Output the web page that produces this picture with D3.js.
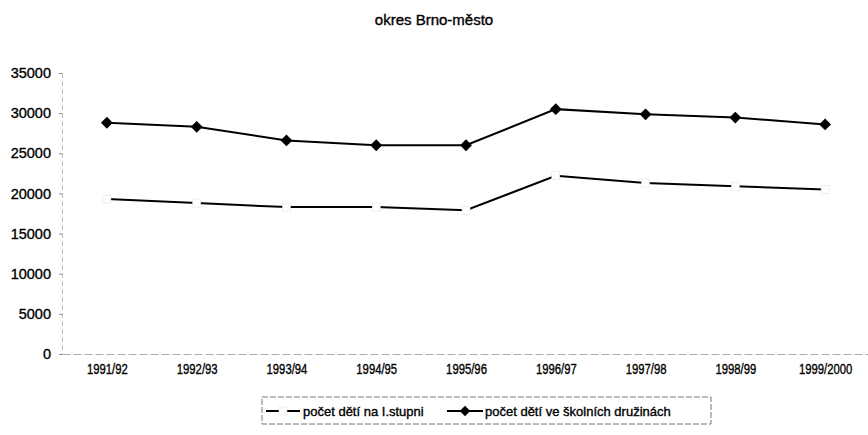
<!DOCTYPE html>
<html>
<head>
<meta charset="utf-8">
<script src="https://cdn.jsdelivr.net/npm/d3@7/dist/d3.min.js"></script>
<style>
  body { margin: 0; background: #fff; }
  svg { display: block; font-family: "Liberation Sans", Arial, sans-serif; }
  text { stroke: #000; stroke-width: 0.35px; }
</style>
</head>
<body>
<svg id="chart"></svg>
<script>
// data
const years = ['1991/92', '1992/93', '1993/94', '1994/95', '1995/96', '1996/97', '1997/98', '1998/99', '1999/2000'];
const detiStupen = [19300, 18800, 18300, 18300, 17900, 22200, 21300, 20900, 20500];
const detiDruziny = [28800, 28300, 26600, 26000, 26000, 30500, 29850, 29450, 28600];
const yTicks = [0, 5000, 10000, 15000, 20000, 25000, 30000, 35000];
const seriesNames = ['počet dětí na I.stupni', 'počet dětí ve školních družinách'];

const width = 868;
const height = 435;
const margin = { top: 73, right: -2, bottom: 81, left: 62 };

const svg = d3.select('#chart')
  .attr('width', width)
  .attr('height', height);

const x = d3.scalePoint()
  .domain(years)
  .range([margin.left, width - margin.right])
  .padding(0.5);

const y = d3.scaleLinear()
  .domain([0, 35000])
  .range([height - margin.bottom, margin.top]);

// nadpis
svg.append('text')
  .attr('x', 434)
  .attr('y', 25)
  .attr('text-anchor', 'middle')
  .attr('font-size', '15px')
  .text('okres Brno-město');

// osa Y - tečkovaná, světlá
const yAxis = svg.append('g')
  .attr('transform', `translate(${margin.left},0)`)
  .call(d3.axisLeft(y).tickValues(yTicks).tickFormat(d3.format('d')).tickSize(3).tickPadding(8));
yAxis.select('.domain').attr('stroke', '#bbb').attr('stroke-dasharray', '5,3');
yAxis.selectAll('.tick line').attr('stroke', '#888');
yAxis.selectAll('.tick text')
  .attr('font-size', '14.5px')
  .attr('fill', '#000');

// osa X
const xAxis = svg.append('g')
  .attr('transform', `translate(0,${y(0)})`)
  .call(d3.axisBottom(x).tickSize(0).tickPadding(10));
xAxis.select('.domain').attr('stroke', '#aaa').attr('stroke-dasharray', '8,3');
xAxis.selectAll('.tick text')
  .attr('font-size', '14px')
  .attr('fill', '#000')
  .attr('textLength', d => (d.length - 1) * 6.3 + 3)
  .attr('lengthAdjust', 'spacingAndGlyphs');

const line = d3.line()
  .x((d, i) => x(years[i]))
  .y(d => y(d));

// rada 1 - počet dětí na I.stupni
svg.append('path')
  .datum(detiStupen)
  .attr('fill', 'none')
  .attr('stroke', '#000')
  .attr('stroke-width', 2)
  .attr('d', line);

svg.selectAll('.m1')
  .data(detiStupen)
  .enter()
  .append('rect')
  .attr('x', (d, i) => x(years[i]) - 4)
  .attr('y', d => y(d) - 4)
  .attr('width', 8)
  .attr('height', 8)
  .attr('fill', '#fff')
  .attr('stroke', '#e2e2e2')
  .attr('stroke-width', 0.6);

// rada 2 - počet dětí ve školních družinách
svg.append('path')
  .datum(detiDruziny)
  .attr('fill', 'none')
  .attr('stroke', '#000')
  .attr('stroke-width', 2)
  .attr('d', line);

svg.selectAll('.m2')
  .data(detiDruziny)
  .enter()
  .append('path')
  .attr('transform', (d, i) => `translate(${x(years[i])},${y(d)}) rotate(45)`)
  .attr('d', d3.symbol().type(d3.symbolSquare).size(70))
  .attr('fill', '#000');

// legenda
const lg = svg.append('g').attr('transform', 'translate(262,397)');
lg.append('rect')
  .attr('width', 449)
  .attr('height', 27)
  .attr('fill', 'none')
  .attr('stroke', '#777')
  .attr('stroke-dasharray', '6,2');

lg.append('line')
  .attr('x1', 4).attr('x2', 38)
  .attr('y1', 14).attr('y2', 14)
  .attr('stroke', '#000').attr('stroke-width', 2);
lg.append('rect')
  .attr('x', 17).attr('y', 10).attr('width', 8).attr('height', 8)
  .attr('fill', '#fff').attr('stroke', '#e2e2e2').attr('stroke-width', 0.6);
lg.append('text')
  .attr('x', 41).attr('y', 18.5)
  .attr('font-size', '13px')
  .text(seriesNames[0]);

lg.append('line')
  .attr('x1', 185).attr('x2', 221)
  .attr('y1', 14).attr('y2', 14)
  .attr('stroke', '#000').attr('stroke-width', 2);
lg.append('path')
  .attr('transform', 'translate(203,14) rotate(45)')
  .attr('d', d3.symbol().type(d3.symbolSquare).size(55))
  .attr('fill', '#000');
lg.append('text')
  .attr('x', 223).attr('y', 18.5)
  .attr('font-size', '13px')
  .text(seriesNames[1]);
</script>
</body>
</html>
